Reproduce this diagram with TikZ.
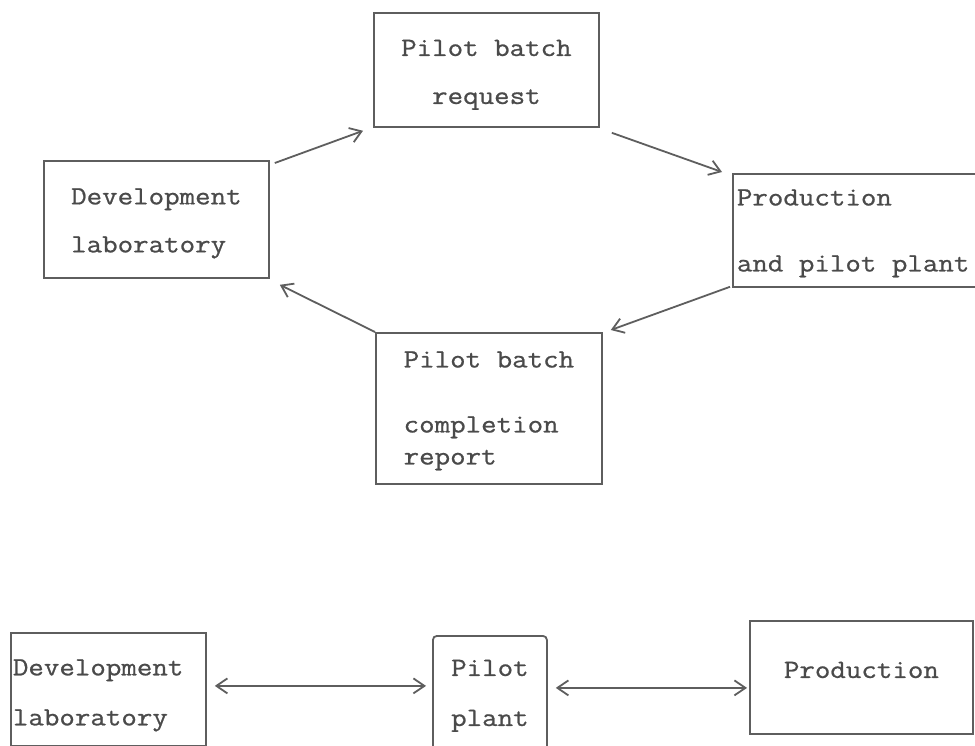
\documentclass[tikz,border=0pt]{standalone}
\usepackage{fontspec}
\setmonofont[FakeStretch=1.14, FakeBold=0.8]{Latin Modern Mono}
\usetikzlibrary{arrows.meta}
\definecolor{ink}{HTML}{5E5E5E}
\definecolor{txt}{HTML}{4A4A4A}
\newcommand{\upstrut}[1]{\rule{0pt}{#1}}
\newcommand{\downstrut}[1]{\rule[-#1]{0pt}{1pt}}
\begin{document}
\begin{tikzpicture}[x=1pt,y=-1pt,
  box/.style={draw=ink, line width=1.8pt, rectangle, anchor=north west,
    text=txt, inner sep=0pt,
    font=\ttfamily\fontsize{26.4}{48}\selectfont},
  conn/.style={draw=ink, line width=1.8pt, -{Straight Barb[length=11pt,width=15pt]}},
  dconn/.style={draw=ink, line width=1.8pt, {Straight Barb[length=11pt,width=15pt]}-{Straight Barb[length=11pt,width=15pt]}}]
\useasboundingbox[fill=white] (0,0) rectangle (975,746);

% upper cycle
\node[box, minimum width=225pt, minimum height=114pt, align=center] (A) at (373,12) {\upstrut{26pt}Pilot batch\\request};
\node[box, minimum width=225pt, minimum height=117pt, align=left] (B) at (43,160) {\upstrut{24pt}Development\\laboratory};
\node[box, minimum height=113pt, text width=252pt, inner xsep=4pt, align=left] (C) at (732,173) {\spaceskip=0pt\relax\upstrut{22pt}Production\\[18pt]and pilot plant};
\node[box, minimum width=226pt, minimum height=151pt, align=left,
  font=\ttfamily\fontsize{26.4}{32}\selectfont] (D) at (375,332) {\upstrut{21pt}Pilot batch\\[33pt]completion\\report};

\draw[conn] ([shift={(5,3)}]B.north east) -- ([shift={(-10,3)}]A.south west);
\draw[conn] ([shift={(12,5)}]A.south east) -- ([shift={(-10,-1)}]C.north west);
\draw[conn] ([shift={(-2,-1)}]C.south west) -- ([shift={(8,-2)}]D.north east);
\draw[conn] (D.north west) -- ([shift={(10,6)}]B.south east);

% lower chain
\node[box, minimum height=113pt, text width=191pt, inner xsep=2pt, align=left,
  font=\ttfamily\fontsize{26.4}{50}\selectfont] (E) at (10,632) {\upstrut{28pt}Development\\laboratory};
\node[box, minimum width=114pt, minimum height=116pt, rounded corners=4pt, align=center,
  font=\ttfamily\fontsize{26.4}{50}\selectfont] (F) at (432,635) {\upstrut{20pt}Pilot\\plant};
\node[box, minimum width=223pt, minimum height=113pt, align=center] (G) at (749,620) {Production\downstrut{15pt}};

\draw[dconn] ([shift={(8,-3.5)}]E.east) -- ([shift={(-6,-8)}]F.west);
\draw[dconn] ([shift={(8,-6)}]F.east) -- ([shift={(-2,10.5)}]G.west);
\end{tikzpicture}
\end{document}
